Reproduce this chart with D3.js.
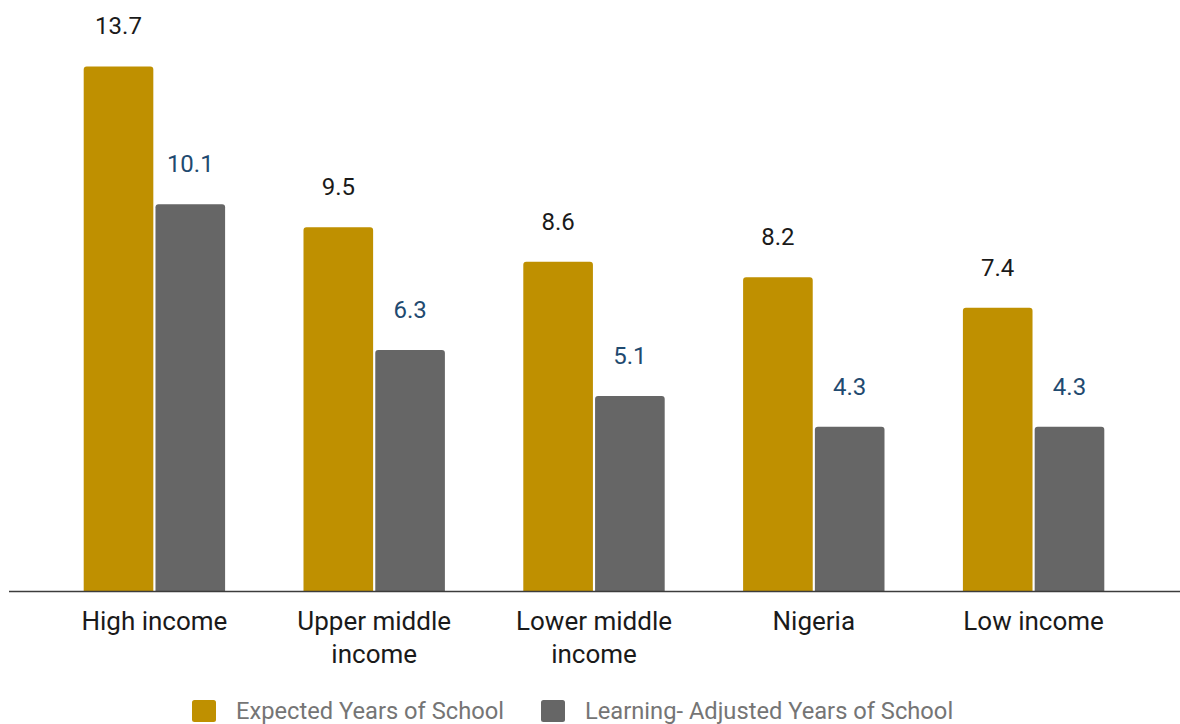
<!DOCTYPE html>
<html>
<head>
<meta charset="utf-8">
<script src="https://cdn.jsdelivr.net/npm/d3@7"></script>
<style>
  html, body { margin: 0; padding: 0; background: #fff; }
  svg { display: block; font-family: Roboto, "Noto Sans", sans-serif; }
</style>
</head>
<body>
<svg id="chart" width="1180" height="724"></svg>
<script>
// Expected vs learning-adjusted years of schooling by income group
const categories = ["High income", "Upper middle income", "Lower middle income", "Nigeria", "Low income"];
const seriesNames = ["Expected Years of School", "Learning- Adjusted Years of School"];
const expectedYears = [13.7, 9.5, 8.6, 8.2, 7.4];
const learningAdjustedYears = [10.1, 6.3, 5.1, 4.3, 4.3];

const seriesValues = [expectedYears, learningAdjustedYears];
const barColors = ["#bf9000", "#666666"];
const labelColors = ["#1a1a1a", "#1f4a70"];

const svg = d3.select("#chart");
const W = 1180, H = 724;
const baseY = 591.5;

const x0 = d3.scaleBand().domain(categories).range([44.5, 1143.5]).padding(0);
const x1 = d3.scaleBand().domain(seriesNames)
  .range([39.2, x0.bandwidth() - 39.2]).paddingInner(0.03);
const y = d3.scaleLinear().domain([0, 14]).range([baseY, baseY - 14 * 38.33]);

// bar with rounded top corners
function topRoundedBar(x, yTop, w, h, r) {
  const p = d3.path();
  p.moveTo(x, yTop + h);
  p.lineTo(x, yTop + r);
  p.arcTo(x, yTop, x + r, yTop, r);
  p.lineTo(x + w - r, yTop);
  p.arcTo(x + w, yTop, x + w, yTop + r, r);
  p.lineTo(x + w, yTop + h);
  p.closePath();
  return p.toString();
}

const rows = categories.map((c, i) => ({
  category: c,
  values: seriesNames.map((s, j) => ({ series: s, j, value: seriesValues[j][i] }))
}));

const groups = svg.append("g").selectAll("g")
  .data(rows).join("g")
  .attr("transform", d => `translate(${x0(d.category)},0)`);

groups.selectAll("path")
  .data(d => d.values).join("path")
  .attr("fill", d => barColors[d.j])
  .attr("d", d => topRoundedBar(x1(d.series), y(d.value), x1.bandwidth(), baseY - y(d.value), 3));

groups.selectAll("text.value")
  .data(d => d.values).join("text")
  .attr("class", "value")
  .attr("x", d => x1(d.series) + x1.bandwidth() / 2)
  .attr("y", d => y(d.value) - 32)
  .attr("text-anchor", "middle")
  .attr("font-size", 24)
  .attr("fill", d => labelColors[d.j])
  .text(d => d.value.toFixed(1));

// category axis
const axis = svg.append("g")
  .attr("transform", `translate(0,${baseY})`)
  .call(d3.axisBottom(x0).tickSize(0).tickPadding(0));
axis.select(".domain").remove();
axis.selectAll(".tick text")
  .attr("font-size", 26)
  .attr("fill", "#1a1a1a")
  .attr("font-family", "Roboto, 'Noto Sans', sans-serif")
  .attr("dy", null)
  .attr("y", 38.5)
  .each(function (d) {
    const el = d3.select(this);
    const words = d.split(" ");
    el.text(null);
    let line = [];
    let tspan = el.append("tspan").attr("x", 0).attr("y", 38.5);
    let lineNo = 0;
    for (const w of words) {
      line.push(w);
      tspan.text(line.join(" "));
      if (tspan.node().getComputedTextLength() > 185 && line.length > 1) {
        line.pop();
        tspan.text(line.join(" "));
        line = [w];
        lineNo++;
        tspan = el.append("tspan").attr("x", 0).attr("y", 38.5 + lineNo * 32.5).text(w);
      }
    }
  });

// baseline
svg.append("line")
  .attr("x1", 9).attr("x2", W)
  .attr("y1", baseY).attr("y2", baseY)
  .attr("stroke", "#3c3c3c").attr("stroke-width", 1.5);

// legend
const legendX = [192, 541];
const legend = svg.append("g").selectAll("g")
  .data(seriesNames).join("g")
  .attr("transform", (d, i) => `translate(${legendX[i]},700)`);
legend.append("rect")
  .attr("width", 24).attr("height", 22).attr("rx", 2.5)
  .attr("fill", (d, i) => barColors[i]);
legend.append("text")
  .attr("x", 44).attr("y", 19)
  .attr("font-size", 23.7)
  .attr("fill", "#757575")
  .text(d => d);
</script>
</body>
</html>
